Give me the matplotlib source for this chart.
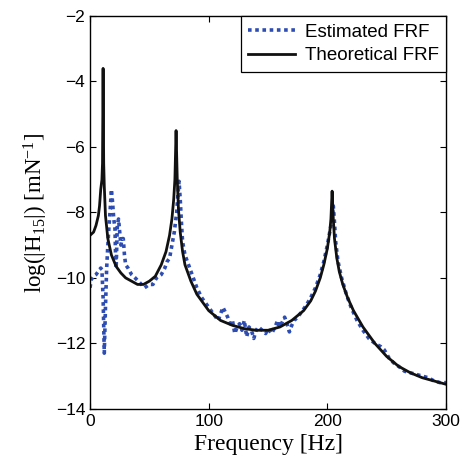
import matplotlib
matplotlib.use('Agg')
import matplotlib.pyplot as plt

# theoretical FRF (black)
freq_theo = [0, 3, 5, 7, 8, 9, 10, 10.5, 11, 11.5, 12, 13, 15, 18, 22, 26, 30, 35, 40, 45, 50, 55,
             60, 64, 67, 69, 70.5, 71.5, 72.5, 73.5, 74.5, 76, 78, 80, 85, 90, 100, 110, 120,
             130, 140, 150, 160, 170, 180, 186, 190, 194, 197, 200, 202, 203, 204, 205, 206,
             208, 210, 213, 217, 222, 230, 240, 250, 260, 270, 280, 290, 300]
mag_theo = [-8.7, -8.6, -8.4, -8.1, -7.8, -7.3, -7.0, -6.5, -3.6, -6.5, -7.2, -8.1, -8.8, -9.3,
            -9.65, -9.85, -10.0, -10.1, -10.2, -10.2, -10.1, -9.95, -9.6, -9.2, -8.7, -8.2,
            -7.6, -7.0, -5.5, -7.0, -7.9, -8.6, -9.2, -9.6, -10.1, -10.5, -11.0, -11.3, -11.45,
            -11.55, -11.6, -11.6, -11.5, -11.3, -11.0, -10.7, -10.4, -10.0, -9.6, -9.1, -8.6,
            -8.2, -7.35, -8.2, -8.8, -9.4, -9.8, -10.2, -10.6, -11.0, -11.5, -12.0, -12.4,
            -12.7, -12.9, -13.05, -13.15, -13.25]

# estimated FRF (blue, dotted)
freq_est = [0, 1, 3, 5, 7, 9, 10, 11, 12, 13, 14, 15, 16, 17, 18, 19, 20, 21, 21.5, 22, 23, 24,
            25, 26, 27, 28, 29, 30, 32, 35, 38, 42, 46, 50, 53, 56, 60, 63, 65, 67, 69, 71, 72,
            73, 74, 75, 76, 77, 78, 80, 83, 86, 90, 94, 98, 102, 106, 108, 110, 112, 114, 116,
            118, 120, 122, 124, 126, 128, 130, 132, 134, 136, 138, 140, 142, 145, 148, 150,
            153, 156, 158, 160, 162, 164, 166, 168, 170, 172, 175, 178, 182, 186, 190, 194,
            197, 200, 202, 204, 205, 206, 207, 209, 212, 216, 220, 225, 230, 235, 240, 245,
            248, 252, 256, 260, 265, 270, 275, 280, 285, 290, 295, 300]
mag_est = [-10.3, -10.05, -9.95, -9.9, -9.8, -9.7, -9.75, -10.6, -12.3, -10.9, -9.7, -9.0, -8.4,
           -7.9, -7.3, -7.7, -8.2, -8.5, -9.3, -9.7, -8.4, -8.2, -8.6, -9.0, -8.8, -8.8, -9.3,
           -9.6, -9.7, -9.9, -10.0, -10.15, -10.3, -10.2, -10.2, -10.0, -9.9, -9.7, -9.5, -9.4,
           -9.0, -8.6, -8.3, -8.0, -7.5, -7.05, -7.6, -8.3, -8.9, -9.3, -9.6, -9.9, -10.3,
           -10.6, -10.8, -11.0, -11.2, -11.3, -11.1, -10.9, -11.05, -11.2, -11.4, -11.3, -11.7,
           -11.5, -11.4, -11.6, -11.3, -11.8, -11.5, -11.6, -11.85, -11.6, -11.5, -11.6, -11.7,
           -11.55, -11.7, -11.5, -11.3, -11.5, -11.35, -11.2, -11.4, -11.65, -11.45, -11.3,
           -11.2, -11.05, -10.85, -10.6, -10.3, -9.9, -9.5, -9.0, -8.6, -8.2, -7.8, -8.3,
           -8.9, -9.5, -10.0, -10.5, -10.9, -11.3, -11.6, -11.85, -12.0, -12.1, -12.2, -12.45,
           -12.6, -12.7, -12.85, -12.9, -12.95, -13.0, -13.05, -13.15, -13.2, -13.2]

x_ticks = [0, 100, 200, 300]
y_ticks = [-14, -12, -10, -8, -6, -4, -2]

plt.rcParams['font.family'] = ['Liberation Sans', 'DejaVu Sans']
plt.rcParams['mathtext.fontset'] = 'custom'
plt.rcParams['mathtext.rm'] = 'Liberation Serif'
plt.rcParams['mathtext.it'] = 'Liberation Serif:italic'

fig = plt.figure(figsize=(4.69, 4.71), dpi=100)
ax = fig.add_axes([0.192, 0.132, 0.759, 0.834])

ax.plot(freq_est, mag_est, color='#2E4DB3', linestyle=(0, (1, 1)), linewidth=2.6,
        label='Estimated FRF')
ax.plot(freq_theo, mag_theo, color='#111111', linewidth=2.0, label='Theoretical FRF')

ax.set_xlim(0, 300)
ax.set_ylim(-14, -2)
ax.set_xticks(x_ticks)
ax.set_yticks(y_ticks)
ax.tick_params(direction='in', top=True, right=True, labelsize=12.5, length=4, width=0.8)
for s in ax.spines.values():
    s.set_linewidth(1.0)

ax.set_xlabel('Frequency [Hz]', family='Liberation Serif', fontsize=17)
ax.set_ylabel(r'log(|H$_{15}$|) [mN$^{-1}$]', family='Liberation Serif', fontsize=16.5)

leg = ax.legend(loc='upper right', fontsize=13.5, fancybox=False, framealpha=1,
                edgecolor='black', borderaxespad=0, handlelength=2.5, borderpad=0.4,
                labelspacing=0.35, handletextpad=0.5)
leg.get_frame().set_linewidth(0.9)

fig.savefig('out.png', dpi=100)
